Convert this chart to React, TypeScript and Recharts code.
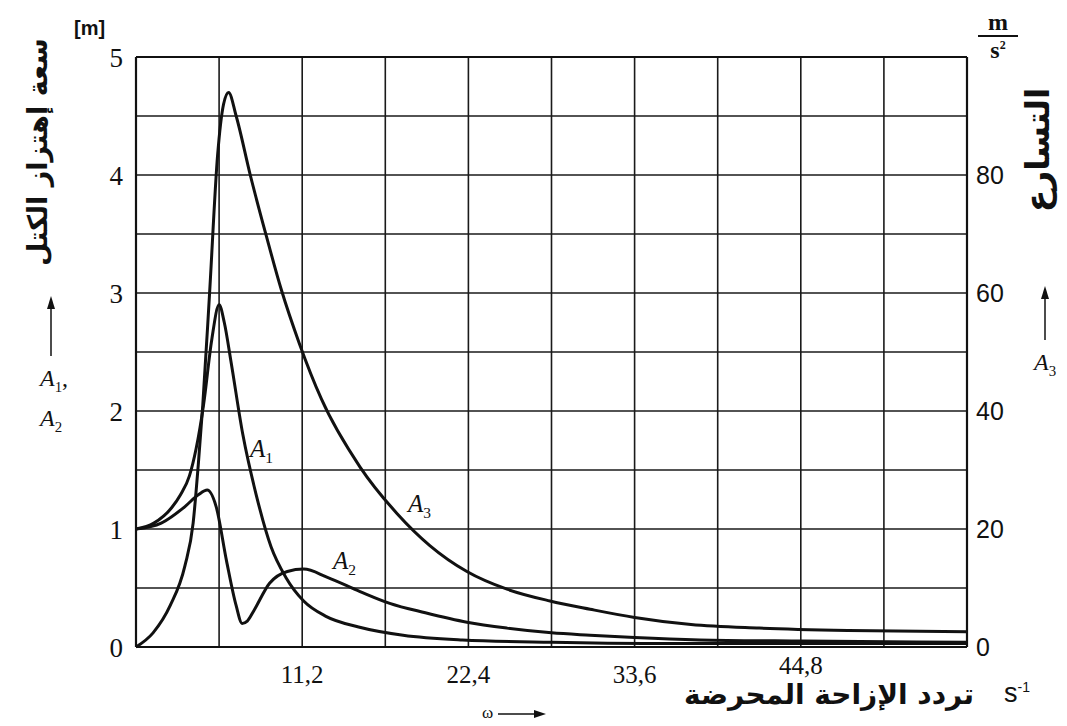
import React from 'react';
import { LineChart, Line, XAxis, YAxis, CartesianGrid } from 'recharts';

// omega grid: one column = 5.6 s^-1, labelled every second column
const OMEGA_TICKS = [0, 5.6, 11.2, 16.8, 22.4, 28, 33.6, 39.2, 44.8, 50.4, 56];
const OMEGA_LABELS = ['', '', '11,2', '', '22,4', '', '33,6', '', '44,8', '', ''];

const AMP_TICKS = [0, 0.5, 1, 1.5, 2, 2.5, 3, 3.5, 4, 4.5, 5];
const ACC_TICKS = [0, 20, 40, 60, 80];

// A1 [m]
const A1_W = [0, 1.2, 2.4, 3.0, 3.6, 4.05, 4.55, 5.1, 5.6, 5.95, 6.4, 7.2, 8.1, 9.1, 10.1, 11.3, 12.8, 15, 18, 22, 28, 35, 45, 56];
const A1_V = [1, 1.05, 1.18, 1.29, 1.45, 1.68, 2.05, 2.6, 2.9, 2.75, 2.42, 1.8, 1.29, 0.85, 0.59, 0.39, 0.26, 0.17, 0.1, 0.06, 0.04, 0.03, 0.03, 0.03];

// A2 [m]
const A2_W = [0, 1.7, 3.3, 4.2, 4.8, 5.4, 6.1, 6.75, 7.15, 7.5, 7.95, 9, 10.2, 11.3, 12.9, 15.1, 17.1, 19.5, 22.3, 25, 28, 30.6, 33.6, 38, 45, 56];
const A2_V = [1, 1.05, 1.19, 1.29, 1.33, 1.19, 0.73, 0.35, 0.2, 0.22, 0.31, 0.54, 0.64, 0.66, 0.59, 0.47, 0.37, 0.29, 0.21, 0.16, 0.12, 0.1, 0.08, 0.06, 0.05, 0.04];

// A3 [m/s^2]
const A3_W = [0, 1.15, 2.3, 3.3, 3.85, 4.2, 4.5, 4.95, 5.5, 5.9, 6.24, 6.75, 7.7, 8.8, 9.8, 11, 12.5, 15.1, 17.6, 19.8, 22.3, 25, 27.9, 30.6, 33.6, 37.4, 42, 48, 56];
const A3_V = [0, 2.4, 7, 13.8, 21, 31, 41, 59.6, 83.4, 92, 94, 90, 80, 69.5, 60.5, 51.5, 42, 30.5, 22.6, 17.2, 12.8, 9.8, 7.8, 6.4, 5, 3.8, 3.2, 2.8, 2.6];

const toPoints = (w: number[], v: number[]) => w.map((x, i) => ({ w: x, v: v[i] }));

const serif = "'Liberation Serif', 'DejaVu Serif', serif";
const sans = "'Liberation Sans', Arial, sans-serif";
const arabic = "'DejaVu Sans', sans-serif";

const abs = (left: number, top: number, extra: React.CSSProperties = {}): React.CSSProperties => ({
  position: 'absolute',
  left,
  top,
  whiteSpace: 'nowrap',
  color: '#111',
  lineHeight: 1,
  ...extra,
});

const OmegaTick = ({ x, y, payload }: any) => {
  const label = OMEGA_LABELS[OMEGA_TICKS.indexOf(payload.value)] ?? '';
  // the last label sits a little higher in the original print
  const lift = label === '44,8' ? -9 : 0;
  return (
    <text x={x} y={y + lift} dy="0.71em" textAnchor="middle" fill="#111" fontSize={25} style={{ fontFamily: serif }}>
      {label}
    </text>
  );
};

const AmpTick = ({ x, y, payload }: any) =>
  Number.isInteger(payload.value) ? (
    <text x={x} y={y} dy="0.36em" textAnchor="end" fill="#111" fontSize={27} style={{ fontFamily: serif }}>
      {payload.value}
    </text>
  ) : null;

const AccTick = ({ x, y, payload }: any) => (
  <text x={x} y={y} dy="0.36em" textAnchor="start" fill="#111" fontSize={25} style={{ fontFamily: sans }}>
    {payload.value}
  </text>
);

const Arrow = ({ x, y1, y2, right = false }: { x: number; y1: number; y2: number; right?: boolean }) =>
  right ? (
    <svg style={{ position: 'absolute', left: 0, top: 0 }} width={1067} height={726}>
      <line x1={x} y1={y1} x2={y2 - 10} y2={y1} stroke="#111" strokeWidth={1.5} />
      <polygon points={`${y2},${y1} ${y2 - 12},${y1 - 4} ${y2 - 12},${y1 + 4}`} fill="#111" />
    </svg>
  ) : (
    <svg style={{ position: 'absolute', left: 0, top: 0 }} width={1067} height={726}>
      <line x1={x} y1={y2} x2={x} y2={y1 + 10} stroke="#111" strokeWidth={1.5} />
      <polygon points={`${x},${y1} ${x - 4},${y1 + 13} ${x + 4},${y1 + 13}`} fill="#111" />
    </svg>
  );

const Sym = ({ n, size = 24 }: { n: string; size?: number }) => (
  <span style={{ fontFamily: serif, fontStyle: 'italic', fontSize: size }}>
    A<sub style={{ fontSize: size * 0.62, fontStyle: 'normal' }}>{n}</sub>
  </span>
);

export default function App() {
  return (
    <div style={{ position: 'absolute', left: 0, top: 0, width: 1067, height: 726, background: '#fff' }}>
      <LineChart width={1067} height={726} margin={{ top: 57, right: 50, bottom: 49, left: 96 }}>
        <CartesianGrid yAxisId="amp" stroke="#1a1a1a" strokeWidth={1.6} />
        <XAxis
          dataKey="w"
          type="number"
          domain={[0, 56]}
          ticks={OMEGA_TICKS}
          tickLine={false}
          tickSize={0}
          tickMargin={18}
          height={30}
          axisLine={{ stroke: '#111', strokeWidth: 2.2 }}
          tick={<OmegaTick />}
          interval={0}
        />
        <YAxis
          yAxisId="amp"
          type="number"
          domain={[0, 5]}
          ticks={AMP_TICKS}
          tickLine={false}
          tickSize={0}
          tickMargin={13}
          width={40}
          axisLine={{ stroke: '#111', strokeWidth: 2.2 }}
          tick={<AmpTick />}
          interval={0}
        />
        <YAxis
          yAxisId="acc"
          orientation="right"
          type="number"
          domain={[0, 100]}
          ticks={ACC_TICKS}
          tickLine={false}
          tickSize={0}
          tickMargin={9}
          width={50}
          axisLine={{ stroke: '#111', strokeWidth: 2.2 }}
          tick={<AccTick />}
          interval={0}
        />
        <Line yAxisId="amp" data={toPoints(A1_W, A1_V)} dataKey="v" type="monotone" stroke="#111" strokeWidth={3} dot={false} isAnimationActive={false} />
        <Line yAxisId="amp" data={toPoints(A2_W, A2_V)} dataKey="v" type="monotone" stroke="#111" strokeWidth={3} dot={false} isAnimationActive={false} />
        <Line yAxisId="acc" data={toPoints(A3_W, A3_V)} dataKey="v" type="monotone" stroke="#111" strokeWidth={3} dot={false} isAnimationActive={false} />
      </LineChart>

      {/* top border of the plot */}
      <div style={{ position: 'absolute', left: 136, top: 56, width: 831, height: 2, background: '#111' }} />

      {/* left axis titles */}
      <div style={abs(74, 18, { fontFamily: sans, fontWeight: 'bold', fontSize: 20 })}>[m]</div>
      <div
        style={abs(37, 152, {
          fontFamily: arabic,
          fontWeight: 'bold',
          fontSize: 27,
          transform: 'translate(-50%, -50%) rotate(-90deg)',
          direction: 'rtl',
        })}
      >
        سعة إهتزاز الكتل
      </div>
      <Arrow x={51} y1={296} y2={356} />
      <div style={abs(40, 366)}>
        <Sym n="1" size={24} />
        <span style={{ fontFamily: serif, fontSize: 24 }}>,</span>
      </div>
      <div style={abs(40, 406)}>
        <Sym n="2" size={24} />
      </div>

      {/* right axis titles */}
      <div style={abs(978, 10, { fontFamily: serif, fontWeight: 'bold', fontSize: 24, textAlign: 'center', width: 40 })}>
        <div style={{ borderBottom: '2.5px solid #111', paddingBottom: 1 }}>m</div>
        <div style={{ paddingTop: 1 }}>
          s<sup style={{ fontSize: 12 }}>2</sup>
        </div>
      </div>
      <div
        style={abs(1037, 150, {
          fontFamily: arabic,
          fontWeight: 'bold',
          fontSize: 33,
          transform: 'translate(-50%, -50%) rotate(-90deg)',
          direction: 'rtl',
        })}
      >
        التسارع
      </div>
      <Arrow x={1045} y1={286} y2={340} />
      <div style={abs(1034, 350)}>
        <Sym n="3" size={24} />
      </div>

      {/* bottom axis title */}
      <div style={abs(684, 681, { fontFamily: arabic, fontWeight: 'bold', fontSize: 28, direction: 'rtl' })}>
        تردد الإزاحة المحرضة
      </div>
      <div style={abs(1004, 680, { fontFamily: sans, fontSize: 27 })}>
        s<sup style={{ fontSize: 14 }}>-1</sup>
      </div>
      <div style={abs(482, 704, { fontFamily: serif, fontSize: 17 })}>ω</div>
      <Arrow right x={498} y1={714} y2={546} />

      {/* curve labels */}
      <div style={abs(250, 436)}>
        <Sym n="1" size={25} />
      </div>
      <div style={abs(333, 548)}>
        <Sym n="2" size={25} />
      </div>
      <div style={abs(408, 491)}>
        <Sym n="3" size={25} />
      </div>
    </div>
  );
}
